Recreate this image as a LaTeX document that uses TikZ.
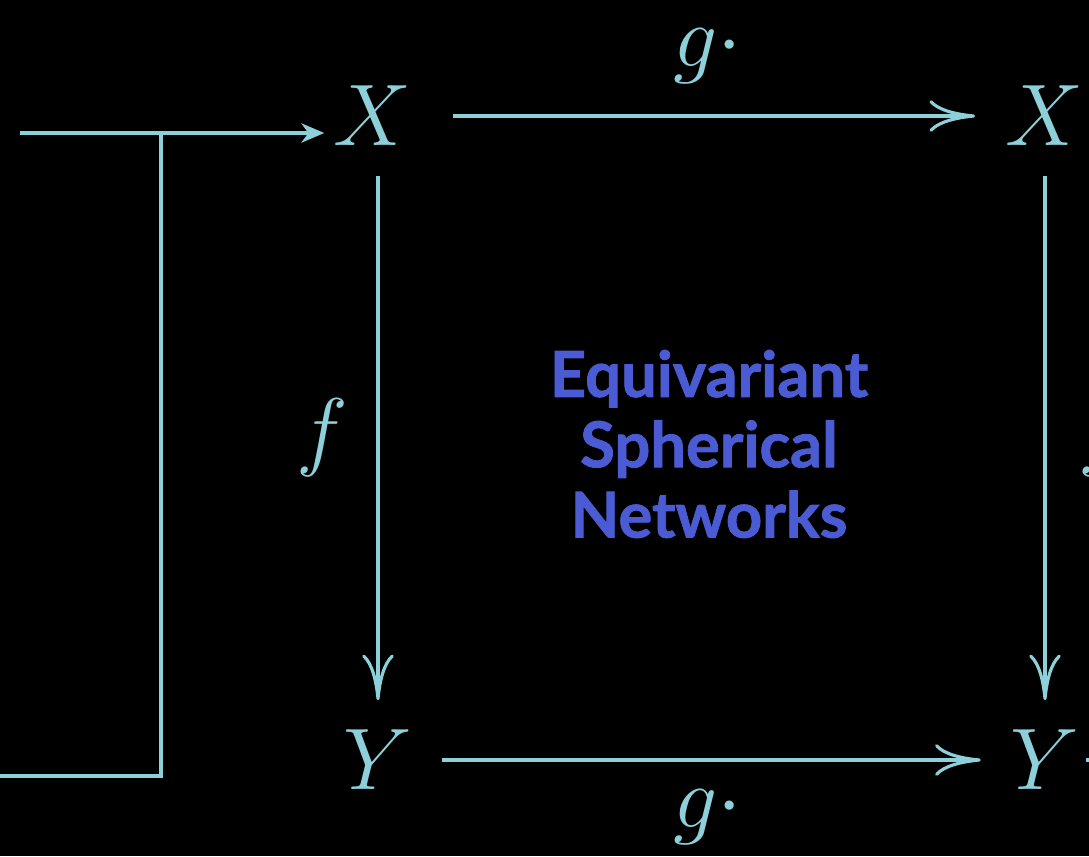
\documentclass[tikz,border=0pt]{standalone}
\usepackage{fontspec}
\usetikzlibrary{arrows.meta}
\newfontfamily\titlefont{Lato}[BoldFeatures={FakeBold=1.3}]
\definecolor{diag}{HTML}{8DD0DA}
\definecolor{eqblue}{HTML}{4B5BD3}

\begin{document}
\begin{tikzpicture}[x=0.01cm,y=-0.01cm,
  obj/.style={text=diag,font=\fontsize{27}{30}\selectfont,inner sep=8.5pt,outer sep=0pt},
  lbl/.style={text=diag,font=\fontsize{27}{30}\selectfont,inner sep=0pt},
  map/.style={draw=diag,line width=0.9pt,-{Computer Modern Rightarrow[length=13pt,width=9pt]}},
  wire/.style={draw=diag,line width=0.9pt}]
%background
\fill[black] (0,0) rectangle (1089,856);
\useasboundingbox (0,0) rectangle (1089,856);
%square
\node[obj] (xl) at (372,116) {$X$};
\node[obj] (xr) at (1044,116) {$X$};
\node[obj] (yl) at (378,760) {$Y$};
\node[obj] (yr) at (1045,760) {$Y$};
\draw[map,shorten <=3.5pt] (xl) -- (xr);
\draw[map] (yl) -- (yr);
\draw[map] (yl |- xl.south) -- (yl.north);
\draw[map] (yr |- xr.south) -- (yr.north);
\node[lbl] (gt) at (708,56) {$g\cdot$};
\node[lbl] (gb) at (708,817) {$g\cdot$};
\node[lbl] (fl) at (322,438) {$f$};
\node[lbl] (fr) at (1104,438) {$f$};
%
\node[align=center,text=eqblue,inner sep=0pt,
  font=\titlefont\bfseries\fontsize{18}{20}\selectfont] (title) at (709,444)
  {Equivariant\\Spherical\\Networks};
%input wire
\coordinate (src) at (20,133);
\coordinate (tee) at (161,133);
\coordinate (lo) at (0,776);
\draw[wire,-{Stealth[length=6.5pt,width=5.5pt,inset=2pt]}] (src) -- ([xshift=6pt]xl.west |- src);
\draw[wire] (lo) -| (tee);
%output stub
\coordinate (stub) at (1086,760);
\coordinate (out) at (1150,760);
\draw[wire] (stub) -- (out);
\end{tikzpicture}
\end{document}
